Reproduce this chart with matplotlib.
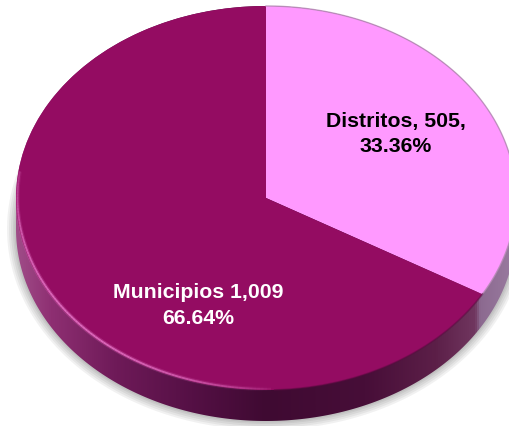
import numpy as np
import matplotlib
matplotlib.use("Agg")
import matplotlib.pyplot as plt
from matplotlib.colors import LinearSegmentedColormap
from matplotlib.collections import LineCollection
from matplotlib.patches import Polygon

categories = ["Distritos", "Municipios"]
values = [505, 1009]
shares = ["33.36%", "66.64%"]
labels = ["Distritos, 505,\n33.36%", "Municipios 1,009\n66.64%"]
colors = ["#FF99FF", "#940C62"]
text_colors = ["black", "white"]

W, H = 510, 426
cx, cy, rx, ry = 266, 198, 250, 192
depth = 31 / ry

plt.rcParams["font.family"] = ["Liberation Sans", "DejaVu Sans"]
fig = plt.figure(figsize=(W / 100, H / 100), dpi=100)
ax = fig.add_axes([0, 0, 1, 1])

x0, x1 = (0 - cx) / rx, (W - cx) / rx
y0, y1 = (cy - H) / ry, cy / ry

# side wall, gradient runs left to right
t = np.linspace(0, 2 * np.pi, 400)
outline = np.concatenate([
    np.c_[np.cos(t[:200]), np.sin(t[:200])],
    np.c_[np.cos(t[200:]), np.sin(t[200:]) - depth],
])
wall_stops = [(0.0, "#A04C88"), (0.07, "#8E2F72"), (0.2, "#6E1A58"), (0.35, "#551045"),
              (0.5, "#3F0A32"), (0.7, "#470E38"), (0.84, "#5C1F48"), (0.92, "#70365F"),
              (0.93, "#8C6A90"), (1.0, "#9A7CA0")]
wall_cmap = LinearSegmentedColormap.from_list("wall", wall_stops)
wall_img = ax.imshow(np.linspace(0, 1, 512).reshape(1, -1), cmap=wall_cmap, aspect="auto",
                     extent=(-1, 1, -1 - depth, 1), zorder=2)
wall_img.set_clip_path(Polygon(outline, transform=ax.transData))

# top face
wedges, _ = ax.pie(values, colors=colors, startangle=90, counterclock=False,
                   radius=1, center=(0, 0), wedgeprops={"linewidth": 0})
for w in wedges:
    w.set_zorder(3)

# soft shadow under the disc, stacked outlines with a fading width
base = np.c_[np.cos(t), np.sin(t) - depth]
for lw, a in [(18, 0.07), (14, 0.07), (10, 0.08), (6, 0.08), (3, 0.08)]:
    ax.plot(base[:, 0], base[:, 1], color="#404040", lw=lw * 0.72, alpha=a, zorder=1.5,
            solid_capstyle="butt")

# light rim on the lower left edge of the face, soft wide pass then thin pass
th = np.radians(np.linspace(172, 272, 120))
pts = np.c_[np.cos(th) * 0.994, np.sin(th) * 0.994]
segs = np.stack([pts[:-1], pts[1:]], axis=1)
fade = np.sin(np.linspace(0.15, np.pi, len(segs))) ** 0.6
rim_cols = np.zeros((len(segs), 4))
rim_cols[:, :3] = matplotlib.colors.to_rgb("#E87ACB")
for lw, a in [(3.0, 0.25), (1.3, 0.8)]:
    c = rim_cols.copy()
    c[:, 3] = np.clip(fade, 0, 1) * a
    ax.add_collection(LineCollection(segs, colors=c, linewidths=lw, zorder=4))

# thin grey edge on the pink slice
th = np.radians(np.linspace(-30, 90, 120))
ax.plot(np.cos(th), np.sin(th), color="#B58AB5", lw=1.0, alpha=0.8, zorder=4)

# soft dark edge on the lower right of the face
th = np.radians(np.linspace(272, 330, 80))
ax.plot(np.cos(th), np.sin(th), color="#5A0A40", lw=1.2, alpha=0.5, zorder=4)

ax.set_aspect("auto")
ax.set_xlim(x0, x1)
ax.set_ylim(y0, y1)
ax.axis("off")

fig.text(396 / W, 1 - 122 / H, labels[0].split("\n")[0], color=text_colors[0], fontsize=15.3,
         fontweight="bold", ha="center", va="center")
fig.text(396 / W, 1 - 147 / H, labels[0].split("\n")[1], color=text_colors[0], fontsize=15.3,
         fontweight="bold", ha="center", va="center")
fig.text(198 / W, 1 - 293 / H, labels[1].split("\n")[0], color=text_colors[1], fontsize=15.3,
         fontweight="bold", ha="center", va="center")
fig.text(198 / W, 1 - 318 / H, labels[1].split("\n")[1], color=text_colors[1], fontsize=15.3,
         fontweight="bold", ha="center", va="center")

fig.savefig("out.png", dpi=100)
